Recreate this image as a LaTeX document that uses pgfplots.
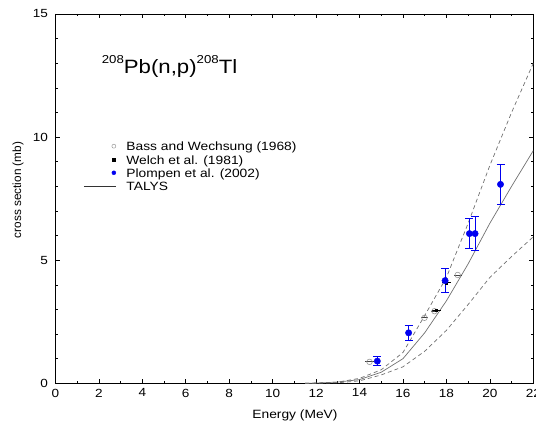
\documentclass[border=0pt]{standalone}
\usepackage{fontspec}
\setmainfont[FakeStretch=1.15]{Liberation Sans}
\newfontfamily\plainfont{Liberation Sans}
\usepackage{pgfplots}
\pgfplotsset{compat=1.18}
\usepackage{pgfplotstable}

\pgfplotstableread{
x y ey
14.82 0.90 0.19
16.26 2.05 0.30
17.94 4.17 0.50
19.06 6.08 0.60
19.32 6.08 0.68
20.49 8.08 0.80
}\plompentab

\pgfplotstableread{
x y ex
14.46 0.87 0.20
16.99 2.66 0.15
17.45 2.93 0.15
18.52 4.40 0.18
}\basstab

\pgfplotstableread{
x y ex
17.53 2.97 0.20
17.99 4.08 0.20
}\welchtab

\pgfplotstableread{
x y
11.5 0
12 0.01
13 0.05
14 0.15
15 0.45
16 1.0
17 2.05
18 3.35
19 4.85
20 6.5
21 8.0
22 9.45
}\talystab

\pgfplotstableread{
x y
11.5 0
12 0.01
13 0.05
14 0.2
15 0.55
16 1.25
17 2.75
18 4.3
19 6.5
20 8.85
21 11.0
22 13.0
}\uppertab

\pgfplotstableread{
x y
11.5 0
12 0.005
13 0.02
14 0.1
15 0.34
16 0.67
17 1.3
18 2.15
19 3.2
20 4.3
21 5.15
22 5.95
}\lowertab

\definecolor{curvegray}{HTML}{707070}
\definecolor{circgray}{HTML}{9A9A9A}
\definecolor{plblue}{HTML}{0000F0}

\begin{document}
\begin{tikzpicture}
\begin{axis}[name=ax, scale only axis, width=477.9pt, height=369.3pt,
  xmin=0, xmax=22, ymin=0, ymax=15,
  xtick={0,2,...,22}, ytick={0,5,10,15},
  minor x tick num=1, minor y tick num=4,
  tick align=inside, tick pos=both,
  major tick length=4.5pt, minor tick length=2.5pt,
  axis line style={line width=0.8pt, black},
  tick style={line width=0.6pt, black},
  /pgf/number format/assume math mode=true,
  ticklabel style={font=\fontsize{11.8}{14}\selectfont},
  xticklabel style={yshift=-2pt},
  yticklabel style={xshift=-4pt},
  xlabel={Energy (MeV)},
  xlabel style={font=\fontsize{12}{14}\selectfont, at={(axis description cs:0.5013,-0.0858)}, anchor=center},
  ylabel={cross section (mb)},
  ylabel style={font=\plainfont\fontsize{11.8}{14}\selectfont, at={(axis description cs:-0.0783,0.5234)}, anchor=center},
  legend cell align=left,
  legend style={at={(0.0584,0.6606)}, anchor=north west, draw=none, fill=none,
    inner sep=0pt, row sep=0pt, column sep=9.4pt,
    font=\fontsize{12}{14}\selectfont,
    nodes={inner sep=0pt, text height=11.35pt, text depth=1.95pt}},
]
\addplot[forget plot, curvegray, line width=0.7pt, dash pattern=on 4pt off 3pt] table[x=x,y=y] {\uppertab};
\addplot[forget plot, curvegray, line width=0.7pt, dash pattern=on 4pt off 3pt] table[x=x,y=y] {\lowertab};
\addplot[forget plot, curvegray, line width=0.7pt] table[x=x,y=y] {\talystab};

\addplot[forget plot, only marks, mark=o, mark size=2.8pt, circgray, mark options={line width=0.6pt},
  error bars/.cd, x dir=both, x explicit,
  error bar style={draw=gray!50!black, line width=0.8pt},
  error mark options={mark size=0pt}] table[x=x,y=y,x error=ex] {\basstab};

\addplot[forget plot, only marks, mark=square*, mark size=1.2pt, black,
  error bars/.cd, x dir=both, x explicit,
  error bar style={draw=black, line width=0.8pt},
  error mark options={mark size=0pt}] table[x=x,y=y,x error=ex] {\welchtab};

\addplot[forget plot, only marks, mark=*, mark size=3.2pt, color=plblue, draw=plblue, fill=plblue,
  error bars/.cd, y dir=both, y explicit,
  error bar style={draw=plblue, color=plblue, line width=0.9pt},
  error mark options={draw=plblue, color=plblue, rotate=90, mark size=4pt, line width=0.9pt}] table[x=x,y=y,y error=ey] {\plompentab};

\addlegendimage{only marks, mark=o, mark size=2pt, circgray, mark options={line width=0.5pt},
  legend image code/.code={\path (-30pt,0pt) (3pt,0pt); \draw plot coordinates {(0pt,0pt)};}}
\addlegendentry{Bass and Wechsung (1968)}
\addlegendimage{only marks, mark=square*, mark size=1.5pt, black,
  legend image code/.code={\path (-30pt,0pt) (3pt,0pt); \draw plot coordinates {(0pt,0pt)};}}
\addlegendentry{Welch et al. (1981)}
\addlegendimage{only marks, mark=*, mark size=2pt, plblue,
  legend image code/.code={\path (-30pt,0pt) (3pt,0pt); \draw plot coordinates {(0pt,0pt)};}}
\addlegendentry{Plompen et al. (2002)}
\addlegendimage{black!80, line width=0.7pt,
  legend image code/.code={\draw (-30pt,0pt) -- (2pt,0pt);}}
\addlegendentry{TALYS}

\node[anchor=base west, font=\fontsize{19.3}{24}\selectfont, inner sep=0pt] at (axis cs:2.13,12.59)
  {\raisebox{9.5pt}{\fontsize{11.5}{12}\selectfont 208}Pb(n,p)\raisebox{9.5pt}{\fontsize{11.5}{12}\selectfont 208}Tl};
\end{axis}
\pgfresetboundingbox
\path[use as bounding box] ([shift={(-55.4pt,-39.7pt)}]ax.south west) rectangle ([shift={(2.7pt,14pt)}]ax.north east);
\end{tikzpicture}
\end{document}
